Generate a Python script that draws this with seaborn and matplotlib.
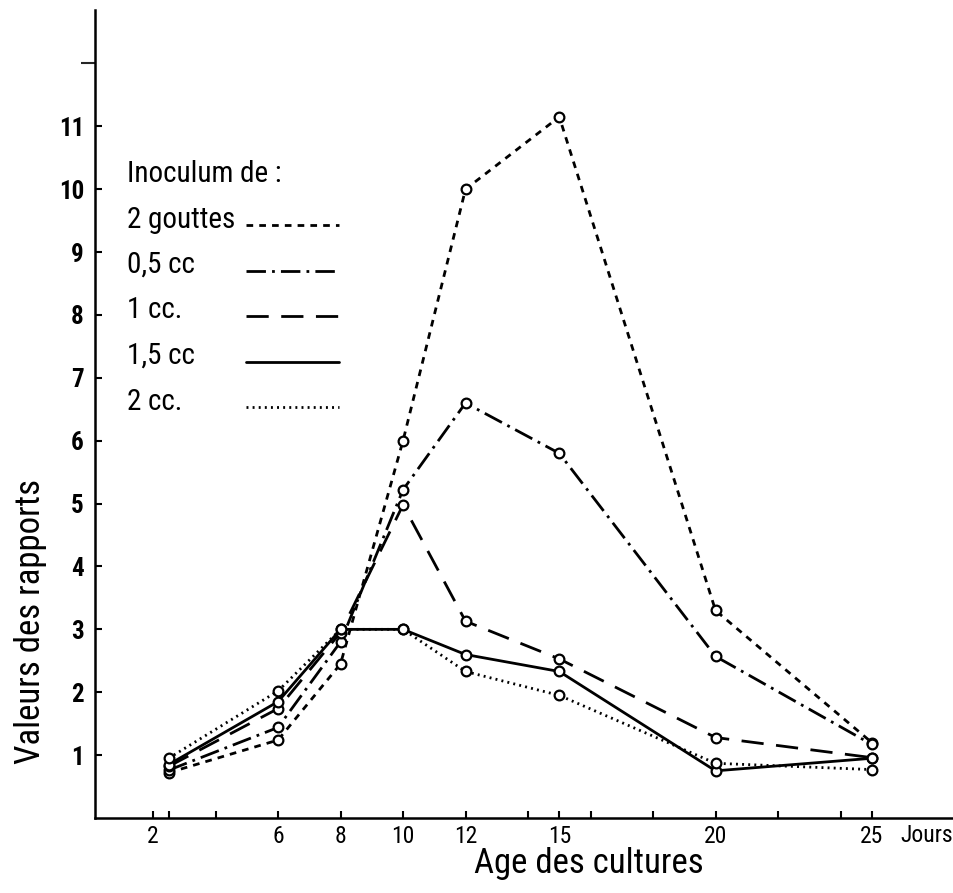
import matplotlib
matplotlib.use("Agg")
import matplotlib.pyplot as plt
from matplotlib import font_manager
from matplotlib.lines import Line2D
import pandas as pd
import seaborn as sns

custom_params = {"axes.spines.right": False, "axes.spines.top": False,
                 "axes.linewidth": 1.8, "axes.edgecolor": "black"}
sns.set_theme(style="white", rc=custom_params)

# a narrow face looks closer to the hand lettering, take one if there is one
installed = {f.name for f in font_manager.fontManager.ttflist}
narrow = [n for n in ["Liberation Sans Narrow", "Roboto Condensed",
                      "Open Sans Condensed", "Noto Sans Condensed",
                      "DejaVu Sans Condensed"] if n in installed]
plt.rcParams["font.family"] = narrow[:1] + ["DejaVu Sans"]
plt.rcParams["font.stretch"] = "condensed"
plt.rcParams["text.color"] = "black"

# values
jours = [2.5, 6, 8, 10, 12, 15, 20, 25]
deux_gouttes = [0.72, 1.24, 2.45, 6.0, 10.0, 11.15, 3.3, 1.2]
cc_0_5 = [0.76, 1.44, 2.8, 5.22, 6.6, 5.8, 2.57, 1.17]
cc_1 = [0.82, 1.74, 2.95, 4.98, 3.13, 2.53, 1.28, 0.96]
cc_1_5 = [0.85, 1.85, 3.0, 3.0, 2.6, 2.33, 0.75, 0.95]
cc_2 = [0.95, 2.02, 3.0, 3.0, 2.33, 1.95, 0.87, 0.77]

inoculums = ["2 gouttes", "0,5 cc", "1 cc.", "1,5 cc", "2 cc."]
series = [deux_gouttes, cc_0_5, cc_1, cc_1_5, cc_2]

x_ticks = [2, 6, 8, 10, 12, 15, 20, 25]
x_minor = [2.5, 4, 14, 16, 18, 22, 24]
y_ticks = list(range(1, 12))

df = pd.concat([pd.DataFrame({"jour": jours, "valeur": v, "inoculum": name})
                for name, v in zip(inoculums, series)], ignore_index=True)

dashes = {"2 gouttes": (2.4, 2.2),
          "0,5 cc": (7, 2.2, 1, 2.2),
          "1 cc.": (8, 4.5),
          "1,5 cc": "",
          "2 cc.": (0.7, 1.5)}

fig = plt.figure(figsize=(9.54, 8.93), dpi=100)
ax = fig.add_axes([95 / 954, 75 / 893, 859 / 954, 808 / 893])

sns.lineplot(data=df, x="jour", y="valeur", style="inoculum",
             style_order=inoculums, dashes=dashes,
             markers={k: "o" for k in inoculums},
             color="black", linewidth=2, markersize=7,
             markeredgewidth=1.6, markeredgecolor="black",
             markerfacecolor="white", errorbar=None, sort=False,
             legend=False, ax=ax)

ax.set_xlim(0.144, 27.63)
ax.set_ylim(0, 12.85)

ax.set_xticks(x_ticks)
ax.set_xticklabels([str(t) for t in x_ticks], fontsize=17)
ax.set_xticks(x_minor, minor=True)
ax.set_yticks(y_ticks)
ax.set_yticklabels([str(t) for t in y_ticks], fontsize=18, fontweight="bold")
ax.set_yticks([12], minor=True)

ax.tick_params(axis="x", which="both", direction="in", length=5, width=1.5,
               bottom=True, pad=5, colors="black")
ax.tick_params(axis="y", which="major", direction="in", length=5, width=1.5,
               left=True, pad=8, colors="black")
ax.tick_params(axis="y", which="minor", direction="out", length=10, width=1.5,
               left=True)

ax.text(25.9, -0.008, "Jours", fontsize=17, va="top", ha="left",
        transform=ax.get_xaxis_transform())

ax.set_xlabel("Age des cultures", fontsize=25, color="black")
ax.xaxis.set_label_coords(0.575, -0.036)
ax.set_ylabel("Valeurs des rapports", fontsize=25, color="black")
ax.yaxis.set_label_coords(-0.056, 0.2426)

# legend: text column on the left, line samples in a column on the right
spacing = dict(fontsize=21, title_fontsize=21, labelspacing=0.6, borderpad=0,
               borderaxespad=0, frameon=False, loc="upper left",
               bbox_transform=fig.transFigure)
blank = [Line2D([], [], linestyle="none") for _ in inoculums]
leg_text = ax.legend(blank, inoculums, title="Inoculum de :", alignment="left",
                     handlelength=0, handletextpad=0,
                     bbox_to_anchor=(127 / 954, 1 - 160 / 893), **spacing)
ax.add_artist(leg_text)

samples = [Line2D([], [], color="black", linewidth=2,
                  linestyle="-" if dashes[k] == "" else (0, dashes[k]))
           for k in inoculums]
ax.legend(samples, [""] * len(inoculums), title=" ", handlelength=3.2,
          handletextpad=0, bbox_to_anchor=(246 / 954, 1 - 168 / 893), **spacing)

fig.savefig("out.png", dpi=100, facecolor="white")
